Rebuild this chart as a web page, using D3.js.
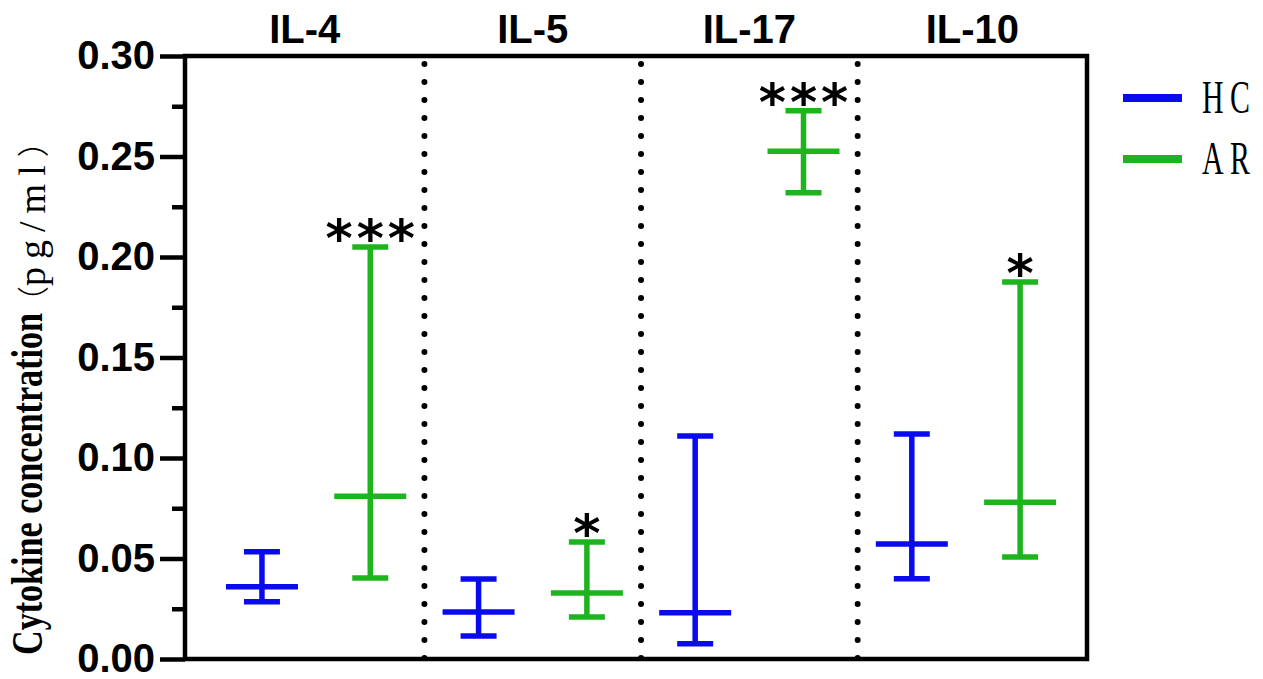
<!DOCTYPE html>
<html>
<head>
<meta charset="utf-8">
<script src="https://cdn.jsdelivr.net/npm/d3@7"></script>
<style>
  body { margin: 0; background: #fff; }
  svg { display: block; }
  .axis text { font-family: "Liberation Sans", Arial, sans-serif; font-weight: bold; font-size: 40px; fill: #000; }
  .axis line, .axis path { stroke: #000; stroke-width: 4.5; }
</style>
</head>
<body>
<svg id="chart" width="1263" height="679"></svg>
<script>
// data
const groups = ["IL-4", "IL-5", "IL-17", "IL-10"];
const series = ["HC", "AR"];
const hcMedian = [0.036, 0.0234, 0.0230, 0.0572];
const hcLow    = [0.0285, 0.0114, 0.0076, 0.0399];
const hcHigh   = [0.0533, 0.0398, 0.1110, 0.1120];
const arMedian = [0.0810, 0.0328, 0.2526, 0.0780];
const arLow    = [0.0403, 0.0209, 0.2320, 0.0507];
const arHigh   = [0.2050, 0.0582, 0.2728, 0.1876];
const stars    = ["***", "*", "***", "*"];
const yTicks   = [0, 0.05, 0.10, 0.15, 0.20, 0.25, 0.30];

const colors = { HC: "#0a0aee", AR: "#1db41d" };

const width = 1263, height = 679;
const plot = { left: 185, right: 1087, top: 56, bottom: 659 };

const svg = d3.select("#chart");

// flatten into one row per error bar
const rows = [];
groups.forEach((g, i) => {
    rows.push({ group: g, series: "HC", median: hcMedian[i], low: hcLow[i], high: hcHigh[i], star: "" });
    rows.push({ group: g, series: "AR", median: arMedian[i], low: arLow[i], high: arHigh[i], star: stars[i] });
});
const key = d => d.group + "|" + d.series;

// scales
const x = d3.scalePoint()
    .domain(rows.map(key))
    .range([plot.left, plot.right])
    .padding(0.664)
    .align(0.535);

const y = d3.scaleLinear()
    .domain([0, 0.30])
    .range([plot.bottom, plot.top]);

// separators sit half way between AR of one group and HC of the next
const seps = d3.range(groups.length - 1).map(i =>
    (x(groups[i] + "|AR") + x(groups[i + 1] + "|HC")) / 2);
const bounds = [plot.left, ...seps, plot.right];

// dotted separators
svg.append("g")
    .selectAll("line")
    .data(seps)
    .join("line")
    .attr("x1", d => d).attr("x2", d => d)
    .attr("y1", plot.top + 8).attr("y2", plot.bottom)
    .attr("stroke", "#000")
    .attr("stroke-width", 6)
    .attr("stroke-linecap", "round")
    .attr("stroke-dasharray", "0 18");

// y axis: major + minor ticks
const minor = d3.pairs(yTicks).map(([a, b]) => (a + b) / 2);
svg.append("g")
    .attr("class", "axis")
    .attr("transform", `translate(${plot.left},0)`)
    .call(d3.axisLeft(y).tickValues(minor).tickSize(13).tickFormat(""))
    .call(g => g.select(".domain").remove());
svg.append("g")
    .attr("class", "axis")
    .attr("transform", `translate(${plot.left},0)`)
    .call(d3.axisLeft(y).tickValues(yTicks).tickSize(25).tickPadding(5).tickFormat(d3.format(".2f")))
    .call(g => g.select(".domain").remove());

// frame
svg.append("rect")
    .attr("x", plot.left).attr("y", plot.top)
    .attr("width", plot.right - plot.left)
    .attr("height", plot.bottom - plot.top)
    .attr("fill", "none")
    .attr("stroke", "#000")
    .attr("stroke-width", 4.5);

// group titles
svg.append("g")
    .selectAll("text")
    .data(groups)
    .join("text")
    .attr("x", (d, i) => (bounds[i] + bounds[i + 1]) / 2)
    .attr("y", 43)
    .attr("text-anchor", "middle")
    .style("font-family", "'Liberation Sans', Arial, sans-serif")
    .style("font-weight", "bold")
    .style("font-size", "40px")
    .text(d => d);

// error bars
const capW = 36, medW = 72;
const bar = svg.append("g")
    .selectAll("g")
    .data(rows)
    .join("g")
    .attr("stroke", d => colors[d.series])
    .attr("stroke-width", 5.5);

bar.append("line")
    .attr("x1", d => x(key(d))).attr("x2", d => x(key(d)))
    .attr("y1", d => y(d.low)).attr("y2", d => y(d.high));
bar.append("line")
    .attr("x1", d => x(key(d)) - capW / 2).attr("x2", d => x(key(d)) + capW / 2)
    .attr("y1", d => y(d.high)).attr("y2", d => y(d.high));
bar.append("line")
    .attr("x1", d => x(key(d)) - capW / 2).attr("x2", d => x(key(d)) + capW / 2)
    .attr("y1", d => y(d.low)).attr("y2", d => y(d.low));
bar.append("line")
    .attr("x1", d => x(key(d)) - medW / 2).attr("x2", d => x(key(d)) + medW / 2)
    .attr("y1", d => y(d.median)).attr("y2", d => y(d.median));

// significance stars
svg.append("g")
    .selectAll("text")
    .data(rows.filter(d => d.star))
    .join("text")
    .attr("x", d => x(key(d)))
    .attr("dx", 2)
    .attr("y", d => y(d.high) + 9)
    .attr("text-anchor", "middle")
    .attr("letter-spacing", 4)
    .style("font-family", "'DejaVu Sans', sans-serif")
    .style("font-weight", "bold")
    .style("font-size", "52px")
    .text(d => d.star);

// y label, condensed serif
svg.append("text")
    .attr("transform", "translate(42,655) rotate(-90)")
    .attr("textLength", 342)
    .attr("lengthAdjust", "spacingAndGlyphs")
    .style("font-family", "'Liberation Serif', 'Times New Roman', serif")
    .style("font-weight", "bold")
    .style("font-size", "44px")
    .text("Cytokine concentration");
const unit = svg.append("text")
    .attr("transform", "translate(45,318) rotate(-90)")
    .style("font-family", "'Liberation Serif', 'Noto Sans CJK SC', serif")
    .style("font-size", "38px");
unit.append("tspan").style("font-family", "'Noto Sans CJK SC'").style("font-size", "32px").style("font-weight", 300).text("（");
unit.append("tspan").attr("letter-spacing", 8).text("pg/ml");
unit.append("tspan").style("font-family", "'Noto Sans CJK SC'").style("font-size", "32px").style("font-weight", 300).text("）");

// legend
const legend = svg.append("g")
    .selectAll("g")
    .data(series)
    .join("g")
    .attr("transform", (d, i) => `translate(1123,${98 + 61 * i})`);
legend.append("line")
    .attr("x1", 0).attr("x2", 59)
    .attr("stroke", d => colors[d])
    .attr("stroke-width", 8);
legend.append("text")
    .attr("transform", "translate(79,15) scale(0.65,1)")
    .attr("letter-spacing", 10)
    .style("font-family", "'Liberation Serif', serif")
    .style("font-size", "46px")
    .text(d => d);
</script>
</body>
</html>
